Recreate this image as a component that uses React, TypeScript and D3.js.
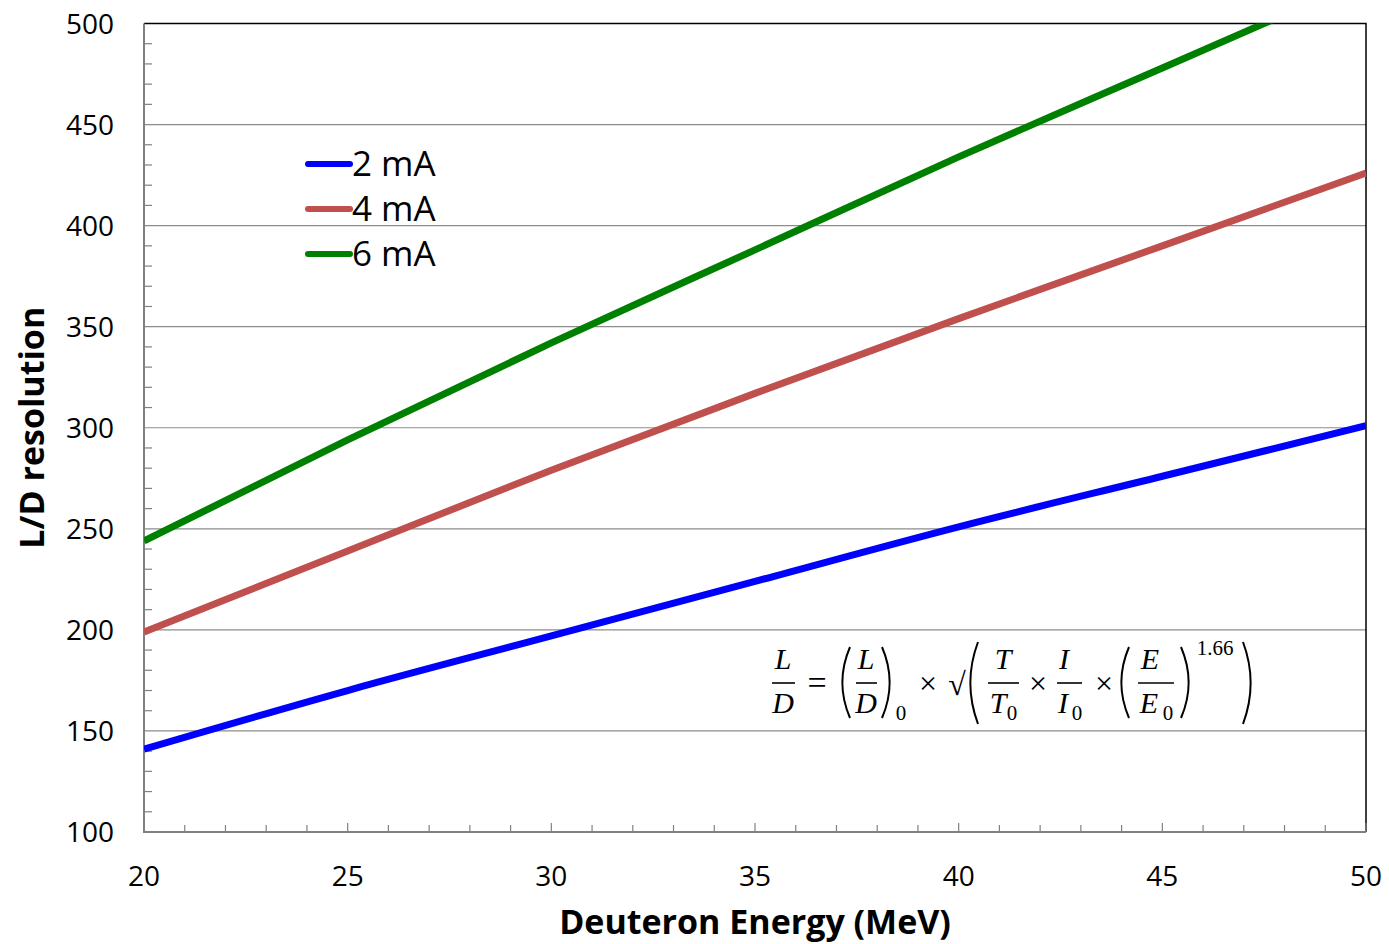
import React, { useEffect, useRef } from 'react';
import * as d3 from 'd3';

// values at 5 MeV steps
const energies = [20, 25, 30, 35, 40, 45, 50];
const ma2 = [141, 170, 197, 224, 251, 276, 301];
const ma4 = [199, 239, 279, 317, 354, 390, 426];
const ma6 = [244, 294, 342, 388, 434, 478, 522];
const seriesNames = ['2 mA', '4 mA', '6 mA'];
const seriesColors = ['#0000ff', '#c0504d', '#008000'];
const yTicks = [100, 150, 200, 250, 300, 350, 400, 450, 500];
const xTicks = [20, 25, 30, 35, 40, 45, 50];

const FONT = "'Open Sans', 'Noto Sans', sans-serif";
const MATH = "'Liberation Serif', 'DejaVu Serif', serif";

export default function App() {
  const ref = useRef<SVGSVGElement>(null);

  useEffect(() => {
    const svg = d3.select(ref.current);
    svg.selectAll('*').remove();

    const left = 144, right = 1366, top = 23.5, bottom = 832;
    const x = d3.scaleLinear().domain([20, 50]).range([left, right]);
    const y = d3.scaleLinear().domain([100, 500]).range([bottom, top]);

    svg.append('defs').append('clipPath').attr('id', 'plotclip')
      .append('rect').attr('x', left).attr('y', top).attr('width', right - left).attr('height', bottom - top);

    // gridlines
    svg.append('g').selectAll('line').data(yTicks.slice(1, -1)).enter().append('line')
      .attr('x1', left).attr('x2', right)
      .attr('y1', d => y(d)).attr('y2', d => y(d))
      .attr('stroke', '#8c8c8c').attr('stroke-width', 1.2);

    // frame: top + right black
    svg.append('path')
      .attr('d', `M${left},${top}H${right}V${bottom}`)
      .attr('fill', 'none').attr('stroke', '#000').attr('stroke-width', 1.5);

    // y minor ticks
    const yMinor = d3.range(100, 501, 10);
    svg.append('g').selectAll('line').data(yMinor).enter().append('line')
      .attr('x1', left).attr('x2', d => left + (d % 50 === 0 ? 0 : 8))
      .attr('y1', d => y(d)).attr('y2', d => y(d))
      .attr('stroke', '#808080').attr('stroke-width', 1.2);

    // x ticks
    const xMinor = d3.range(20, 51, 1);
    svg.append('g').selectAll('line').data(xMinor).enter().append('line')
      .attr('x1', d => x(d)).attr('x2', d => x(d))
      .attr('y1', bottom).attr('y2', d => bottom - (d % 5 === 0 ? 9 : 7))
      .attr('stroke', '#808080').attr('stroke-width', 1.2);

    // axes lines
    svg.append('path')
      .attr('d', `M${left},${top}V${bottom}H${right}`)
      .attr('fill', 'none').attr('stroke', '#808080').attr('stroke-width', 2);

    // tick labels
    svg.append('g').selectAll('text').data(yTicks).enter().append('text')
      .attr('x', 114).attr('y', d => y(d) + 10)
      .attr('text-anchor', 'end').attr('font-family', FONT).attr('font-size', 28)
      .text(d => d);
    svg.append('g').selectAll('text').data(xTicks).enter().append('text')
      .attr('x', d => x(d)).attr('y', 886)
      .attr('text-anchor', 'middle').attr('font-family', FONT).attr('font-size', 28)
      .text(d => d);

    // axis titles
    svg.append('text')
      .attr('x', (left + right) / 2).attr('y', 934)
      .attr('text-anchor', 'middle').attr('font-family', FONT).attr('font-size', 34).attr('font-weight', 'bold')
      .text('Deuteron Energy (MeV)');
    svg.append('text')
      .attr('transform', `translate(44,${(top + bottom) / 2}) rotate(-90)`)
      .attr('text-anchor', 'middle').attr('font-family', FONT).attr('font-size', 34).attr('font-weight', 'bold')
      .text('L/D resolution');

    // series
    const all = [ma2, ma4, ma6];
    const line = d3.line<number>()
      .x((_, i) => x(energies[i]))
      .y(d => y(d))
      .curve(d3.curveMonotoneX);
    svg.append('g').attr('clip-path', 'url(#plotclip)')
      .selectAll('path').data(all).enter().append('path')
      .attr('d', d => line(d))
      .attr('fill', 'none')
      .attr('stroke', (_, i) => seriesColors[i])
      .attr('stroke-width', 7);

    // legend
    const lg = svg.append('g').attr('transform', 'translate(308,164)');
    seriesNames.forEach((name, i) => {
      lg.append('line').attr('x1', 0).attr('x2', 42).attr('y1', i * 45).attr('y2', i * 45)
        .attr('stroke', seriesColors[i]).attr('stroke-width', 6).attr('stroke-linecap', 'round');
      lg.append('text').attr('x', 44).attr('y', i * 45 + 12)
        .attr('font-family', FONT).attr('font-size', 35).text(name);
    });

    // formula
    const f = svg.append('g').attr('font-family', MATH).attr('font-size', 30);
    const it = (tx: number, ty: number, s: string, size = 30, italic = true) =>
      f.append('text').attr('x', tx).attr('y', ty).attr('text-anchor', 'middle')
        .attr('font-size', size).attr('font-style', italic ? 'italic' : 'normal').text(s);
    const bar = (x1: number, x2: number) =>
      f.append('line').attr('x1', x1).attr('x2', x2).attr('y1', 683).attr('y2', 683)
        .attr('stroke', '#000').attr('stroke-width', 1.6);
    const paren = (px: number, y1: number, y2: number, open: boolean) => {
      const w = open ? -9 : 9;
      f.append('path')
        .attr('d', `M${px},${y1}Q${px + w * 1.7},${(y1 + y2) / 2} ${px},${y2}`)
        .attr('fill', 'none').attr('stroke', '#000').attr('stroke-width', 2);
    };
    // L/D
    it(783, 669, 'L'); it(783, 713, 'D'); bar(772, 795);
    it(817, 694, '=', 34, false);
    paren(850, 647, 718, true); it(866, 669, 'L'); it(866, 713, 'D'); bar(856, 877); paren(882, 647, 718, false);
    it(901, 720, '0', 21, false);
    it(928, 694, '×', 32, false);
    it(957, 695, '√', 32, false);
    paren(978, 642, 724, true);
    it(1003, 669, 'T'); it(998, 713, 'T'); it(1012, 720, '0', 21, false); bar(988, 1019);
    it(1038, 694, '×', 32, false);
    it(1064, 669, 'I'); it(1063, 713, 'I'); it(1077, 720, '0', 21, false); bar(1057, 1082);
    it(1104, 694, '×', 32, false);
    paren(1129, 647, 718, true);
    it(1150, 669, 'E'); it(1149, 713, 'E'); it(1168, 720, '0', 21, false); bar(1138, 1174);
    paren(1181, 647, 718, false);
    it(1215, 655, '1.66', 21, false);
    paren(1243, 642, 724, false);
  }, []);

  return (
    <svg ref={ref} width={1389} height={944} style={{ display: 'block', margin: '-8px 0 0 -8px' }} />
  );
}
